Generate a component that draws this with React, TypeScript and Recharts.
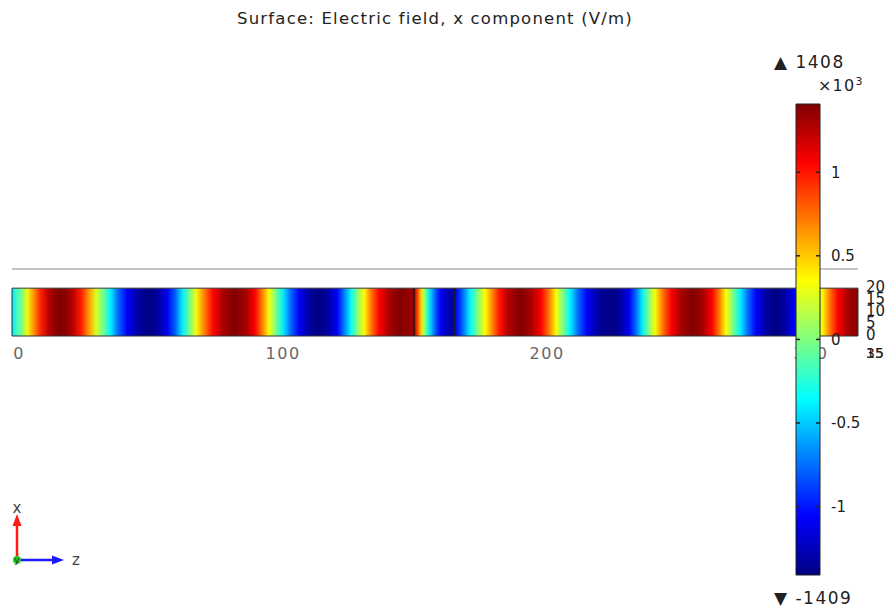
import React from 'react';
import { ComposedChart, XAxis, YAxis, ReferenceArea, ReferenceLine } from 'recharts';

// z positions (model units) along the strip and the x component of E (V/m) read at each
const zSamples = [
  -2.7, -0.8, 1.1, 3.0, 5.3, 8.0, 11.0, 13.6, 15.5, 17.8, 20.5, 23.5, 26.5, 29.2, 31.8, 34.5, 37.5, 40.9, 44.7,
  48.9, 52.7, 56.1, 59.1, 61.7, 64.4, 67.0, 70.1, 73.5, 77.3, 81.8, 86.0, 89.4, 92.0, 94.7, 97.3, 100.0, 103.0,
  106.1, 109.5, 113.3, 117.0, 120.5, 123.1, 125.8, 128.0, 130.7, 133.3, 136.4, 140.2, 144.3, 149.2,
  150.0, 151.1, 152.3, 153.4, 154.5, 156.1, 158.0, 159.8, 162.1, 164.4,
  165.2, 167.0, 168.9, 170.8, 173.5, 176.5, 179.5, 182.2, 185.6, 189.8, 193.9, 197.7, 200.8, 203.4, 206.1,
  208.7, 211.7, 215.2, 219.3, 223.9, 227.7, 231.1, 233.7, 236.0, 238.3, 240.9, 243.9, 247.0, 250.8, 254.9,
  259.1, 262.5, 265.2, 267.8, 270.5, 273.1, 276.1, 279.2, 282.6, 286.4, 290.2, 293.6, 296.6, 299.2, 301.9,
  304.2, 307.2, 310.2, 314.0, 317.8,
];
const exSamples = [
  -420, -180, 0, 300, 620, 950, 1230, 1370, 1405, 1370, 1240, 980, 620, 250, -30, -380, -760, -1080, -1300,
  -1405, -1320, -1100, -800, -420, -60, 320, 700, 1050, 1300, 1405, 1300, 1060, 720, 330, -30, -400, -780,
  -1080, -1300, -1405, -1310, -1080, -720, -330, 0, 360, 720, 1060, 1300, 1400, 1330,
  1150, 820, 450, 120, -200, -520, -860, -1080, -1250, -1320,
  -1120, -900, -650, -380, -30, 350, 720, 1020, 1280, 1405, 1300, 1060, 720, 340, -20,
  -380, -760, -1080, -1310, -1405, -1320, -1090, -760, -400, -40, 340, 740, 1060, 1300, 1405,
  1300, 1060, 720, 340, -20, -380, -760, -1080, -1300, -1405, -1310, -1080, -760, -380, 0,
  340, 740, 1060, 1300, 1400,
];

const Z_MIN = -2.7;
const Z_MAX = 317.8;
const STRIP_TOP = 20;
const PLANE_LINE = 28;
const domainBoundaries = [149.6, 164.8];
const xTicks = [0, 100, 200, 300];
const yTicks = [0, 5, 10, 15, 20];
const FIELD_MIN = -1409;
const FIELD_MAX = 1408;
const colorbarTicks = [-1000, -500, 0, 500, 1000];
const jetBreaks = [0, 0.125, 0.375, 0.625, 0.875, 1];

const clamp = (v: number) => Math.max(0, Math.min(1, v));
const jet = (t: number) => {
  const r = clamp(1.5 - Math.abs(4 * t - 3));
  const g = clamp(1.5 - Math.abs(4 * t - 2));
  const b = clamp(1.5 - Math.abs(4 * t - 1));
  return `rgb(${Math.round(r * 255)},${Math.round(g * 255)},${Math.round(b * 255)})`;
};
const toT = (v: number) => (v - FIELD_MIN) / (FIELD_MAX - FIELD_MIN);

const stripData = zSamples.map((z, i) => ({ z, ex: exSamples[i] }));

const FONT = "'DejaVu Sans', sans-serif";

export default function App() {
  return (
    <div style={{ position: 'absolute', left: 0, top: 0, width: 892, height: 608, background: '#fff', fontFamily: FONT, overflow: 'hidden' }}>
      <div style={{ position: 'absolute', left: 0, top: 0 }}>
        <ComposedChart width={892} height={608} data={stripData} margin={{ top: 269, left: 12, right: 4, bottom: 242 }}>
          <defs>
            <linearGradient id="stripGrad" x1="0" y1="0" x2="1" y2="0">
              {stripData.map((d, i) => (
                <stop key={i} offset={(d.z - Z_MIN) / (Z_MAX - Z_MIN)} stopColor={jet(toT(d.ex))} />
              ))}
            </linearGradient>
          </defs>
          <XAxis
            type="number"
            dataKey="z"
            domain={[Z_MIN, Z_MAX]}
            allowDataOverflow
            ticks={xTicks}
            interval={0}
            height={30}
            axisLine={false}
            tickLine={false}
            tickSize={0}
            tickMargin={12}
            tick={{ fill: '#666', fontSize: 16, fontFamily: FONT, letterSpacing: 1.5 }}
          />
          <YAxis
            orientation="right"
            type="number"
            domain={[0, PLANE_LINE]}
            allowDataOverflow
            ticks={yTicks}
            interval={0}
            width={30}
            axisLine={false}
            tickLine={false}
            tickSize={0}
            tickMargin={8}
            tick={{ fill: '#222', fontSize: 15, fontFamily: FONT, dy: -1 }}
          />
          <ReferenceLine
            segment={[{ x: Z_MIN, y: PLANE_LINE }, { x: Z_MAX, y: PLANE_LINE }]}
            stroke="#c4c4c4"
            strokeWidth={2}
          />
          <ReferenceArea
            x1={Z_MIN}
            x2={Z_MAX}
            y1={0}
            y2={STRIP_TOP}
            fill="url(#stripGrad)"
            fillOpacity={1}
            stroke="#333"
            strokeWidth={1}
          />
          {domainBoundaries.map((b) => (
            <ReferenceLine key={b} segment={[{ x: b, y: 0 }, { x: b, y: STRIP_TOP }]} stroke="#1a1a1a" strokeWidth={1.5} />
          ))}
        </ComposedChart>
      </div>

      <div style={{ position: 'absolute', left: 0, top: 10, width: 870, textAlign: 'center', fontSize: 16.5, letterSpacing: 1.2, color: '#222', lineHeight: '18px', whiteSpace: 'nowrap' }}>
        Surface: Electric field, x component (V/m)
      </div>

      <div style={{ position: 'absolute', left: 866, top: 345, fontSize: 14, color: '#222', lineHeight: '16px' }}>35</div>
      <div style={{ position: 'absolute', left: 866, top: 345, fontSize: 14, color: '#222', lineHeight: '16px' }}>15</div>

      <div style={{ position: 'absolute', left: 786, top: 94 }}>
        <ComposedChart width={120} height={491} data={[{ x: 0 }, { x: 1 }]} margin={{ top: 10, left: 10, right: 0, bottom: 10 }}>
          <defs>
            <linearGradient id="cbGrad" x1="0" y1="1" x2="0" y2="0">
              {jetBreaks.map((t) => (
                <stop key={t} offset={t} stopColor={jet(t)} />
              ))}
            </linearGradient>
          </defs>
          <XAxis type="number" dataKey="x" domain={[0, 1]} hide />
          <YAxis
            orientation="right"
            type="number"
            domain={[FIELD_MIN, FIELD_MAX]}
            allowDataOverflow
            ticks={colorbarTicks}
            interval={0}
            width={86}
            axisLine={false}
            tickLine={false}
            tickSize={0}
            tickMargin={11}
            tickFormatter={(v: number) => String(v / 1000)}
            tick={{ fill: '#222', fontSize: 15, fontFamily: FONT }}
          />
          <ReferenceArea
            x1={0}
            x2={1}
            y1={FIELD_MIN}
            y2={FIELD_MAX}
            fill="url(#cbGrad)"
            fillOpacity={1}
            stroke="#222"
            strokeWidth={1}
          />
          {colorbarTicks.map((t) => (
            <ReferenceLine key={'l' + t} segment={[{ x: 0, y: t }, { x: 0.17, y: t }]} stroke="#222" strokeWidth={1.5} />
          ))}
          {colorbarTicks.map((t) => (
            <ReferenceLine key={'r' + t} segment={[{ x: 0.83, y: t }, { x: 1, y: t }]} stroke="#222" strokeWidth={1.5} />
          ))}
        </ComposedChart>
      </div>

      <div style={{ position: 'absolute', left: 774, top: 52, fontSize: 17, color: '#222', lineHeight: '20px', letterSpacing: 1.5, whiteSpace: 'nowrap' }}>
        ▲ 1408
      </div>
      <div style={{ position: 'absolute', left: 818, top: 76, fontSize: 16, color: '#222', lineHeight: '20px', letterSpacing: 1.2, whiteSpace: 'nowrap' }}>
        ×10<sup style={{ fontSize: 11, verticalAlign: 'top', position: 'relative', top: -4 }}>3</sup>
      </div>
      <div style={{ position: 'absolute', left: 774, top: 588, fontSize: 17, color: '#222', lineHeight: '20px', letterSpacing: 1.5, whiteSpace: 'nowrap' }}>
        ▼ -1409
      </div>

      <svg style={{ position: 'absolute', left: 0, top: 490 }} width={100} height={90}>
        <line x1={17} y1={70} x2={17} y2={34} stroke="#ff1a1a" strokeWidth={2.5} />
        <polygon points="17,24 12.5,36 21.5,36" fill="#ff1a1a" />
        <line x1={17} y1={70} x2={54} y2={70} stroke="#1a1aff" strokeWidth={2.5} />
        <polygon points="64,70 52,65.5 52,74.5" fill="#1a1aff" />
        <circle cx={17} cy={70} r={4} fill="#22cc22" />
        <text x={17} y={73} fontSize={9} textAnchor="middle" fill="#333" fontFamily={FONT}>y</text>
        <text x={17} y={23} fontSize={15} textAnchor="middle" fill="#444" fontFamily={FONT}>x</text>
        <text x={76} y={75} fontSize={15} textAnchor="middle" fill="#444" fontFamily={FONT}>z</text>
      </svg>
    </div>
  );
}
